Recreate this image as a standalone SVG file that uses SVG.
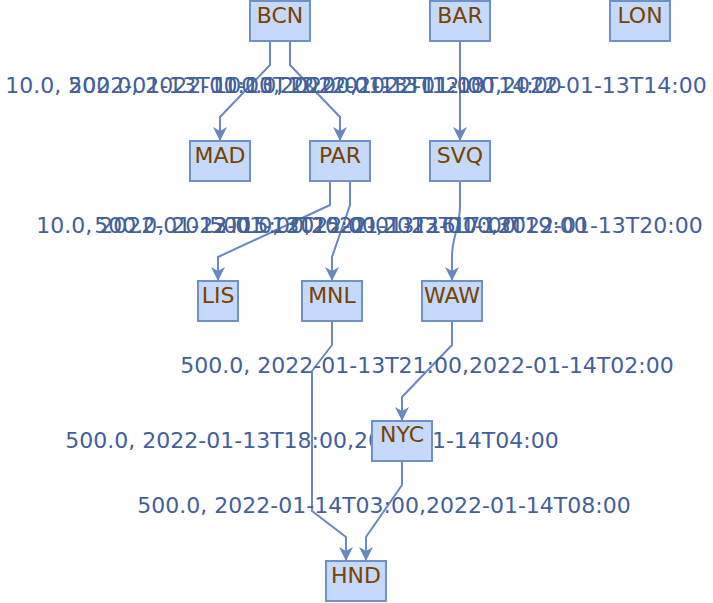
<svg xmlns="http://www.w3.org/2000/svg" width="713" height="603" viewBox="0 0 713 603">
<defs>
<marker id="arr" markerUnits="userSpaceOnUse" markerWidth="16" markerHeight="16" viewBox="-1 -8 16 16" refX="14" refY="0" orient="auto">
<path d="M0,-7 L14,0 L0,7 L4,0 Z" fill="#6a88c2"/>
</marker>
</defs>
<style>
.node rect{fill:#c5d9fb;stroke:#7090c8;stroke-width:2}
.node text{font-family:"DejaVu Sans",sans-serif;font-size:22px;fill:#7a4100;text-anchor:middle}
#edges path{fill:none;stroke:#6a88c2;stroke-width:2;marker-end:url(#arr)}
#edges text{font-family:"DejaVu Sans",sans-serif;font-size:22px;fill:#42609a;text-anchor:middle}
</style>
<rect width="713" height="603" fill="#ffffff"/>
<g id="edges">
<path d="M270,41 L270,65 L220,117 L220,141"/>
<path d="M290,41 L290,65 L340,117 L340,141"/>
<path d="M460,41 L460,141"/>
<path d="M330,181 L330,205 L218,257 L218,281"/>
<path d="M350,181 L350,205 L332,257 L332,281"/>
<path d="M460,181 L460,205 C460,228 452,236 452,257 L452,281"/>
<path d="M332,321 L332,345 L312,371 L312,511 L346,537 L346,561"/>
<path d="M452,321 L452,345 L402,397 L402,421"/>
<path d="M402,461 L402,485 L366,537 L366,561"/>
<text x="245" y="93">10.0, 2022-01-13T10:00,2022-01-13T11:00</text>
<text x="315" y="93">500.0, 2022-01-13T12:00,2022-01-13T14:00</text>
<text x="460" y="93">100.0, 2022-01-13T12:00,2022-01-13T14:00</text>
<text x="276" y="233">10.0, 2022-01-13T15:00,2022-01-13T17:00</text>
<text x="341" y="233">500.0, 2022-01-13T15:00,2022-01-13T19:00</text>
<text x="456" y="233">500.0, 2022-01-13T16:00,2022-01-13T20:00</text>
<text x="427" y="373">500.0, 2022-01-13T21:00,2022-01-14T02:00</text>
<text x="312" y="448">500.0, 2022-01-13T18:00,2022-01-14T04:00</text>
<text x="384" y="513">500.0, 2022-01-14T03:00,2022-01-14T08:00</text>
</g>
<g id="BCN" class="node"><rect x="250" y="1" width="60" height="40"/><text x="280" y="23">BCN</text></g>
<g id="BAR" class="node"><rect x="430" y="1" width="60" height="40"/><text x="460" y="23">BAR</text></g>
<g id="LON" class="node"><rect x="610" y="1" width="60" height="40"/><text x="640" y="23">LON</text></g>
<g id="MAD" class="node"><rect x="190" y="141" width="60" height="40"/><text x="220" y="163">MAD</text></g>
<g id="PAR" class="node"><rect x="310" y="141" width="60" height="40"/><text x="340" y="163">PAR</text></g>
<g id="SVQ" class="node"><rect x="430" y="141" width="60" height="40"/><text x="460" y="163">SVQ</text></g>
<g id="LIS" class="node"><rect x="198" y="281" width="40" height="40"/><text x="218" y="303">LIS</text></g>
<g id="MNL" class="node"><rect x="302" y="281" width="60" height="40"/><text x="332" y="303">MNL</text></g>
<g id="WAW" class="node"><rect x="422" y="281" width="60" height="40"/><text x="452" y="303">WAW</text></g>
<g id="NYC" class="node"><rect x="372" y="421" width="60" height="40"/><text x="402" y="442">NYC</text></g>
<g id="HND" class="node"><rect x="326" y="561" width="60" height="40"/><text x="356" y="583">HND</text></g>
</svg>
